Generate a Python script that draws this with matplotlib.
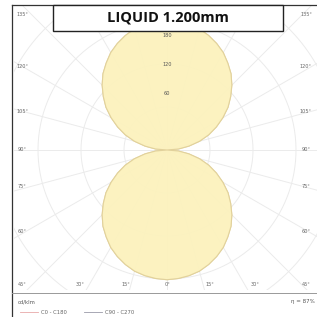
import numpy as np
import matplotlib
matplotlib.use("Agg")
import matplotlib.pyplot as plt
from matplotlib.patches import Rectangle

# ---- data (cd/klm) ----
gamma_deg = [0, 5, 10, 15, 20, 25, 30, 35, 40, 45, 50, 55, 60, 65, 70, 75, 80, 85, 90,
             95, 100, 105, 110, 115, 120, 125, 130, 135, 140, 145, 150, 155, 160, 165, 170, 175, 180]
c0_c180 = [181, 180, 178, 175, 170, 164, 157, 148, 139, 128, 116, 104, 90, 76, 62, 47, 31, 16, 0,
           16, 31, 47, 62, 76, 90, 104, 116, 128, 139, 148, 157, 164, 170, 175, 178, 180, 181]
c90_c270 = [181, 180, 178, 175, 170, 164, 157, 148, 139, 128, 116, 104, 90, 76, 62, 47, 31, 16, 0,
            16, 31, 47, 62, 76, 90, 104, 116, 128, 139, 148, 157, 164, 170, 175, 178, 180, 181]
grid_values = [60, 120, 180, 240, 300, 360]
radial_labels = ["60", "120", "180"]
title = "LIQUID 1.200mm"
unit_label = "cd/klm"
efficiency_label = "η = 87%"
legend_labels = ["C0 - C180", "C90 - C270"]
side_angles = [135, 120, 105, 90, 75, 60, 45]
bottom_angles = [45, 30, 15, 0, 15, 30, 45]

W = H = 317
px = 43 / 60.0           # pixels per cd/klm
cx, cy = 167, 150        # centre in image pixels (from top)

fig = plt.figure(figsize=(W / 100, H / 100), dpi=100)
ax = fig.add_axes([0, 0, 1, 1])
ax.set_xlim(-cx / px, (W - cx) / px)
ax.set_ylim(-(H - cy) / px, cy / px)
ax.axis("off")

def to_data(x_img, y_img):
    return (x_img - cx) / px, (cy - y_img) / px

# plot region (clip)
x0, y0 = to_data(14, 290)
x1, y1 = to_data(318, 6)
clip = Rectangle((x0, y0), x1 - x0, y1 - y0, transform=ax.transData, facecolor="none", edgecolor="none")
ax.add_patch(clip)

grid_col = "#ebebeb"
R = 600
for a in range(0, 360, 15):
    t = np.deg2rad(a)
    ln, = ax.plot([0, R * np.sin(t)], [0, -R * np.cos(t)], color=grid_col, lw=0.7, zorder=1)
    ln.set_clip_path(clip)
tt = np.linspace(0, 2 * np.pi, 400)
for g in grid_values:
    ln, = ax.plot(g * np.sin(tt), g * np.cos(tt), color=grid_col, lw=0.7, zorder=1)
    ln.set_clip_path(clip)

# photometric curves (gamma measured from downward vertical)
g = np.deg2rad(np.array(gamma_deg, dtype=float))
for vals, col in [(c0_c180, "#e0cf98"), (c90_c270, "#e0cf98")]:
    v = np.array(vals, dtype=float)
    xs = np.concatenate([v * np.sin(g), -(v * np.sin(g))[::-1]])
    ys = np.concatenate([-v * np.cos(g), (-v * np.cos(g))[::-1]])
    ax.fill(xs, ys, facecolor="#fcf2bf", edgecolor=col, lw=0.8, alpha=0.85, zorder=2)

# radial labels along upward axis
lab_r = [56, 85, 114]
for r, s in zip(lab_r, radial_labels):
    ax.text(0, r / px, s, fontsize=3.6, color="#555555", ha="center", va="center", zorder=4)

# angle labels
for a, yi in zip(side_angles, [15, 67, 112, 150, 187, 232, 285]):
    xd, yd = to_data(22, yi)
    ax.text(xd, yd, f"{a}°", fontsize=3.6, color="#666666", ha="center", va="center", zorder=4)
    xd, yd = to_data(306, yi)
    ax.text(xd, yd, f"{a}°", fontsize=3.6, color="#666666", ha="center", va="center", zorder=4)
for a, xi in zip(bottom_angles[1:-1], [80, 126, 167, 210, 255]):
    xd, yd = to_data(xi, 285)
    ax.text(xd, yd, f"{a}°", fontsize=3.6, color="#666666", ha="center", va="center", zorder=4)

# frame lines (figure coords)
fig.add_artist(plt.Line2D([12 / W, 12 / W], [0, 1 - 5 / H], color="#333333", lw=0.9))
fig.add_artist(plt.Line2D([12 / W, 1], [1 - 5 / H, 1 - 5 / H], color="#333333", lw=0.9))
fig.add_artist(plt.Line2D([12 / W, 1], [1 - 293 / H, 1 - 293 / H], color="#999999", lw=0.7))

# title box
fig.add_artist(Rectangle((53 / W, 1 - 31 / H), (283 - 53) / W, 26 / H, transform=fig.transFigure,
                         facecolor="white", edgecolor="#222222", lw=1.0, zorder=5))
fig.text(168 / W, 1 - 18 / H, title, fontsize=10.5, fontweight="bold", family="Open Sans",
         ha="center", va="center", color="#111111", zorder=6)

# legend / footer
fig.text(18 / W, 1 - 302 / H, unit_label, fontsize=3.8, color="#555555", ha="left", va="center")
fig.add_artist(plt.Line2D([20 / W, 38 / W], [1 - 312 / H, 1 - 312 / H], color="#e8a8a8", lw=0.6))
fig.text(41 / W, 1 - 312 / H, legend_labels[0], fontsize=3.8, color="#666666", ha="left", va="center")
fig.add_artist(plt.Line2D([84 / W, 102 / W], [1 - 312 / H, 1 - 312 / H], color="#9a9aa8", lw=0.6))
fig.text(105 / W, 1 - 312 / H, legend_labels[1], fontsize=3.8, color="#666666", ha="left", va="center")
fig.text(291 / W, 1 - 302 / H, efficiency_label, fontsize=4, color="#555555", ha="left", va="center")

fig.savefig("out.png", dpi=100)
